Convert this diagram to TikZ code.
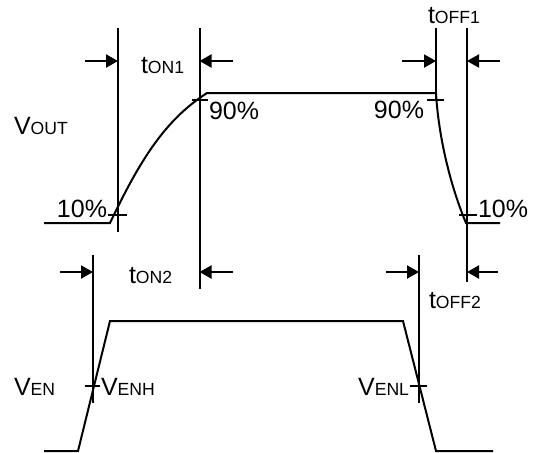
\documentclass[tikz,border=0pt]{standalone}
\usepackage{fontspec}
\setmainfont{Liberation Sans}
\usetikzlibrary{arrows.meta}
\newcommand{\sm}[1]{{\fontsize{8.8}{10}\selectfont #1}}

\begin{document}
\begin{tikzpicture}[x=0.5pt, y=-0.5pt, line width=1pt]
\tikzstyle{lbl}=[inner sep=0pt, font=\fontsize{12.5}{14}\selectfont]
\tikzstyle{dim}=[-{Triangle[length=6pt, width=6.5pt]}]
\useasboundingbox (0,0) rectangle (534,452);

% marker lines
\coordinate (m1t) at (118,28);   \coordinate (m1b) at (118,232);
\coordinate (m2t) at (199.5,28); \coordinate (m2b) at (199.5,289);
\coordinate (m3t) at (436,28);   \coordinate (m3b) at (436,100);
\coordinate (m4t) at (467,28);   \coordinate (m4b) at (467,282);
\coordinate (m5t) at (93,255);   \coordinate (m5b) at (93,403);
\coordinate (m6t) at (419,255);  \coordinate (m6b) at (419,403);

% arrow tails
\coordinate (a1) at (85,61);  \coordinate (a2) at (233,61);
\coordinate (a3) at (402,61); \coordinate (a4) at (500,61);
\coordinate (a5) at (60,272); \coordinate (a6) at (233,272);
\coordinate (a7) at (386,272); \coordinate (a8) at (498,272);

% waveforms
\coordinate (o0) at (44,223);  \coordinate (o1) at (110,223);
\coordinate (o2) at (207,93);  \coordinate (o3) at (436,93);
\coordinate (o4) at (466,223); \coordinate (o5) at (500,223);
\coordinate (e0) at (44,451);  \coordinate (e1) at (78,451);
\coordinate (e2) at (110,321); \coordinate (e3) at (403,321);
\coordinate (e4) at (436,451); \coordinate (e5) at (493,451);

\node[lbl, anchor=base west] (vout) at (13,134) {V\sm{OUT}};
\node[lbl, anchor=base west] (ven) at (13,395) {V\sm{EN}};
\node[lbl, anchor=base west] (ton1) at (140,73) {t\sm{ON1}};
\node[lbl, anchor=base west] (toff1) at (427,23) {t\sm{OFF1}};
\node[lbl, anchor=base west] (ton2) at (128,283) {t\sm{ON2}};
\node[lbl, anchor=base west] (toff2) at (428,308) {t\sm{OFF2}};
\node[lbl, anchor=base west] (p90a) at (208,119) {90\%};
\node[lbl, anchor=base east] (p90b) at (425,118) {90\%};
\node[lbl, anchor=base east] (p10a) at (108,217) {10\%};
\node[lbl, anchor=base west] (p10b) at (477,217) {10\%};
\node[lbl, anchor=base west] (venh) at (100,395) {V\sm{ENH}};
\node[lbl, anchor=base east] (venl) at (410,395) {V\sm{ENL}};

\draw (m1t) -- (m1b);
\draw (m2t) -- (m2b);
\draw (m3t) -- (m3b);
\draw (m4t) -- (m4b);
\draw (m5t) -- (m5b);
\draw (m6t) -- (m6b);

\draw[dim] (a1) -- (a1 -| m1t);
\draw[dim] (a2) -- (a2 -| m2t);
\draw[dim] (a3) -- (a3 -| m3t);
\draw[dim] (a4) -- (a4 -| m4t);
\draw[dim] (a5) -- (a5 -| m5t);
\draw[dim] (a6) -- (a6 -| m2t);
\draw[dim] (a7) -- (a7 -| m6t);
\draw[dim] (a8) -- (a8 -| m4t);

\draw (o0) -- (o1) .. controls (140,160) and (165,120) .. (o2) -- (o3)
      .. controls (438,130) and (448,180) .. (o4) -- (o5);
\draw (e0) -- (e1) -- (e2) -- (e3) -- (e4) -- (e5);

% level ticks
\draw (108,215) -- (127,215);
\draw (192,100) -- (208,100);
\draw (427,100) -- (444,100);
\draw (459,215) -- (477,215);
\draw (85,386) -- (100,386);
\draw (410,386) -- (427,386);

\end{tikzpicture}
\end{document}
